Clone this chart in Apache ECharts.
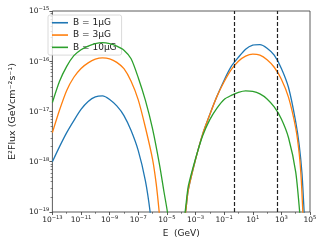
<!DOCTYPE html>
<html>
<head>
<meta charset="utf-8">
<script src="https://cdn.jsdelivr.net/npm/echarts@6/dist/echarts.min.js"></script>
<style>html,body{margin:0;padding:0;background:#fff}#c{width:324px;height:243px}</style>
</head>
<body>
<div id="c"></div>
<script>
// [E (GeV), E^2 Flux (GeV cm^-2 s^-1)]
const seriesNames = ['B = 1\u03bcG', 'B = 3\u03bcG', 'B = 10\u03bcG'];
const colors = ['#1f77b4', '#ff7f0e', '#2ca02c'];

const syncB1 = [[1e-13,1.0e-18],[3.16e-13,2.0e-18],[1e-12,3.8e-18],[3.16e-12,6.6e-18],[1e-11,1.10e-17],[3.16e-11,1.58e-17],[1e-10,1.95e-17],[3.16e-10,2.04e-17],[1e-9,1.74e-17],[3.16e-9,1.29e-17],[1e-8,8.3e-18],[3.16e-8,4.17e-18],[1e-7,1.66e-18],[3.16e-7,4.17e-19],[6.76e-7,1e-19],[8.9e-7,4e-20]];
const syncB3 = [[1e-13,3.8e-18],[3.16e-13,1.07e-17],[1e-12,2.63e-17],[3.16e-12,4.8e-17],[1e-11,7.2e-17],[3.16e-11,9.3e-17],[1e-10,1.10e-16],[3.16e-10,1.17e-16],[1e-9,1.12e-16],[3.16e-9,9.5e-17],[1e-8,7.1e-17],[3.16e-8,4.0e-17],[1e-7,1.70e-17],[3.16e-7,4.8e-18],[1e-6,1.12e-18],[1.78e-6,3.7e-19],[2.9e-6,1e-19],[3.55e-6,5e-20]];
const syncB10 = [[1e-13,1.51e-17],[3.16e-13,4.0e-17],[1e-12,7.9e-17],[3.16e-12,1.29e-16],[1e-11,1.70e-16],[3.16e-11,2.0e-16],[1e-10,2.24e-16],[3.16e-10,2.34e-16],[1e-9,2.24e-16],[3.16e-9,2.0e-16],[1e-8,1.66e-16],[3.16e-8,1.12e-16],[1e-7,4.7e-17],[3.16e-7,1.66e-17],[1e-6,4.5e-18],[3.16e-6,8.3e-19],[6.3e-6,2.5e-19],[1.12e-5,9.5e-20],[1.35e-5,5e-20]];

const icB1 = [[1e-4,5e-20],[3.16e-4,2.8e-19],[1e-3,1.10e-18],[3.16e-3,3.55e-18],[1e-2,8.7e-18],[3.16e-2,2.0e-17],[0.1,4.2e-17],[0.316,7.9e-17],[1,1.20e-16],[3.16,1.74e-16],[10,2.09e-16],[31.6,2.14e-16],[100,1.82e-16],[316,1.32e-16],[1000,7.2e-17],[3162,3.0e-17],[1e4,6.3e-18],[17800,2.1e-18],[27500,5.9e-19],[38900,1e-19],[43650,5e-20]];
const icB3 = [[1e-4,5e-20],[3.16e-4,2.8e-19],[1e-3,1.10e-18],[3.16e-3,3.55e-18],[1e-2,8.7e-18],[3.16e-2,2.0e-17],[0.1,3.9e-17],[0.316,6.8e-17],[1,1.0e-16],[3.16,1.26e-16],[10,1.38e-16],[31.6,1.32e-16],[100,1.07e-16],[316,7.6e-17],[1000,4.4e-17],[3162,1.91e-17],[1e4,4.7e-18],[17800,1.41e-18],[24500,4.4e-19],[31600,1e-19],[35500,5e-20]];
const icB10 = [[1e-4,5e-20],[3.16e-4,3.3e-19],[1e-3,1.15e-18],[3.16e-3,3.3e-18],[1e-2,6.9e-18],[3.16e-2,1.17e-17],[0.1,1.74e-17],[0.316,2.09e-17],[1,2.4e-17],[3.16,2.57e-17],[10,2.51e-17],[31.6,2.24e-17],[100,1.78e-17],[316,1.23e-17],[1000,7.1e-18],[3162,3.0e-18],[1e4,6.3e-19],[19000,1e-19],[22400,5e-20]];

const dashedE = [0.5, 500];
const xLabelValues = [1e-13,1e-11,1e-9,1e-7,1e-5,1e-3,1e-1,1e1,1e3,1e5];
const xMinorValues = [1e-12,1e-10,1e-8,1e-6,1e-4,1e-2,1e0,1e2,1e4];
const yLabelValues = [1e-19,1e-18,1e-17,1e-16,1e-15];
const yMinorMant = [2,3,4,5,6,7,8,9];

const yMinorValues = [];
for (let d = -19; d < -15; d++) yMinorMant.forEach(m => yMinorValues.push(m * Math.pow(10, d)));

const FONT = 'DejaVu Sans';
function supLabel(v) {
  const e = Math.round(Math.log10(v));
  return '{b|10}{s|' + (e < 0 ? '\u2212' + (-e) : e) + '}';
}
const rich = {
  b: {fontSize: 7.5, fontFamily: FONT, color: '#222', verticalAlign: 'bottom', lineHeight: 9},
  s: {fontSize: 5.2, fontFamily: FONT, color: '#222', verticalAlign: 'top', lineHeight: 9, padding: [0,0,3,0]}
};

const allData = [syncB1.concat(icB1), syncB3.concat(icB3), syncB10.concat(icB10)];

const series = allData.map((d, i) => ({
  name: seriesNames[i], type: 'line', data: d, showSymbol: false, symbol: 'none',
  smooth: 0.25, clip: true, lineStyle: {color: colors[i], width: 1.3}, itemStyle: {color: colors[i]},
  xAxisIndex: 0, yAxisIndex: 0, z: 2 + i
}));
series.push({
  type: 'line', data: [], xAxisIndex: 0, yAxisIndex: 0, z: 10,
  markLine: {silent: true, symbol: 'none', label: {show: false},
    lineStyle: {color: '#222', type: [4, 2], width: 1.2},
    data: dashedE.map(v => ({xAxis: v}))}
});

const chart = echarts.init(document.getElementById('c'), null, {renderer: 'canvas'});
chart.setOption({
  animation: false,
  textStyle: {fontFamily: FONT},
  grid: {left: 44, right: 14, top: 11, bottom: 31, show: true, borderColor: '#333', borderWidth: 0.8, backgroundColor: 'transparent'},
  legend: {
    orient: 'vertical', left: 48, top: 15, icon: 'rect', itemWidth: 16, itemHeight: 1.6, itemGap: 1.8,
    padding: [2.5, 5, 2.5, 4], backgroundColor: 'rgba(255,255,255,0.8)', borderColor: '#d0d0d0', borderWidth: 0.8, borderRadius: 2,
    textStyle: {fontSize: 9, fontFamily: FONT, color: '#222', lineHeight: 10.5},
    data: seriesNames
  },
  xAxis: [{
    type: 'log', logBase: 10, min: 1e-13, max: 1e5,
    name: 'E  (GeV)', nameLocation: 'middle', nameGap: 12,
    nameTextStyle: {fontSize: 9, fontFamily: FONT, color: '#222'},
    axisLine: {show: false},
    axisTick: {show: true, length: 3, inside: false, lineStyle: {color: '#333', width: 0.8}, customValues: xLabelValues},
    axisLabel: {show: true, margin: 3, customValues: xLabelValues, formatter: supLabel, rich: rich},
    splitLine: {show: false}, minorTick: {show: false}
  }, {
    type: 'log', logBase: 10, min: 1e-13, max: 1e5, position: 'bottom', gridIndex: 0,
    axisLine: {show: false},
    axisTick: {show: true, length: 1.8, lineStyle: {color: '#333', width: 0.6}, customValues: xMinorValues},
    axisLabel: {show: false}, splitLine: {show: false}
  }],
  yAxis: [{
    type: 'log', logBase: 10, min: 1e-19, max: 1e-15,
    name: 'E\u00b2Flux (GeVcm\u207b\u00b2s\u207b\u00b9)', nameLocation: 'middle', nameGap: 25,
    nameTextStyle: {fontSize: 9.5, fontFamily: FONT, color: '#222'},
    axisLine: {show: false},
    axisTick: {show: true, length: 3, lineStyle: {color: '#333', width: 0.8}, customValues: yLabelValues},
    axisLabel: {show: true, margin: 3, customValues: yLabelValues, formatter: supLabel, rich: rich},
    splitLine: {show: false}
  }, {
    type: 'log', logBase: 10, min: 1e-19, max: 1e-15, position: 'left', gridIndex: 0,
    axisLine: {show: false},
    axisTick: {show: true, length: 1.8, lineStyle: {color: '#333', width: 0.6}, customValues: yMinorValues},
    axisLabel: {show: false}, splitLine: {show: false}
  }],
  series: series
});
</script>
</body>
</html>
